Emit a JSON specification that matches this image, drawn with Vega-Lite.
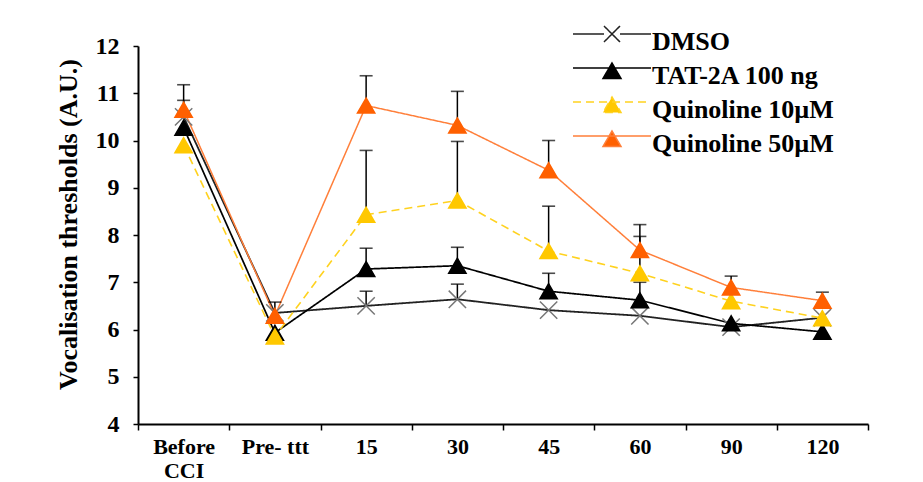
{
  "$schema": "https://vega.github.io/schema/vega-lite/v6.json",
  "autosize": "none",
  "width": 730,
  "height": 378,
  "padding": {"left": 138, "top": 46, "right": 55, "bottom": 58},
  "background": "white",
  "config": {
    "view": {"stroke": null},
    "font": "Liberation Serif",
    "axis": {"labelFont": "Liberation Serif", "titleFont": "Liberation Serif", "labelColor": "black", "titleColor": "black", "domainColor": "black", "tickColor": "black", "grid": false}
  },
  "data": {
    "values": [
      {"t": "Before CCI", "s": "DMSO", "v": 10.5, "u": 10.85},
      {"t": "Pre- ttt", "s": "DMSO", "v": 6.35, "u": null},
      {"t": "15", "s": "DMSO", "v": 6.5, "u": 6.81},
      {"t": "30", "s": "DMSO", "v": 6.64, "u": 6.96},
      {"t": "45", "s": "DMSO", "v": 6.41, "u": null},
      {"t": "60", "s": "DMSO", "v": 6.29, "u": null},
      {"t": "90", "s": "DMSO", "v": 6.05, "u": null},
      {"t": "120", "s": "DMSO", "v": 6.25, "u": null},
      {"t": "Before CCI", "s": "TAT-2A 100 ng", "v": 10.27, "u": null},
      {"t": "Pre- ttt", "s": "TAT-2A 100 ng", "v": 5.93, "u": null},
      {"t": "15", "s": "TAT-2A 100 ng", "v": 7.28, "u": 7.72},
      {"t": "30", "s": "TAT-2A 100 ng", "v": 7.35, "u": 7.74},
      {"t": "45", "s": "TAT-2A 100 ng", "v": 6.81, "u": 7.19},
      {"t": "60", "s": "TAT-2A 100 ng", "v": 6.62, "u": 7.0},
      {"t": "90", "s": "TAT-2A 100 ng", "v": 6.13, "u": null},
      {"t": "120", "s": "TAT-2A 100 ng", "v": 5.95, "u": null},
      {"t": "Before CCI", "s": "Quinoline 10µM", "v": 9.9, "u": null},
      {"t": "Pre- ttt", "s": "Quinoline 10µM", "v": 5.85, "u": null},
      {"t": "15", "s": "Quinoline 10µM", "v": 8.43, "u": 9.79},
      {"t": "30", "s": "Quinoline 10µM", "v": 8.73, "u": 9.98},
      {"t": "45", "s": "Quinoline 10µM", "v": 7.66, "u": 8.61},
      {"t": "60", "s": "Quinoline 10µM", "v": 7.19, "u": 7.97},
      {"t": "90", "s": "Quinoline 10µM", "v": 6.6, "u": null},
      {"t": "120", "s": "Quinoline 10µM", "v": 6.24, "u": null},
      {"t": "Before CCI", "s": "Quinoline 50µM", "v": 10.65, "u": 11.18},
      {"t": "Pre- ttt", "s": "Quinoline 50µM", "v": 6.29, "u": 6.58},
      {"t": "15", "s": "Quinoline 50µM", "v": 10.74, "u": 11.37},
      {"t": "30", "s": "Quinoline 50µM", "v": 10.32, "u": 11.04},
      {"t": "45", "s": "Quinoline 50µM", "v": 9.37, "u": 10.0},
      {"t": "60", "s": "Quinoline 50µM", "v": 7.68, "u": 8.22},
      {"t": "90", "s": "Quinoline 50µM", "v": 6.89, "u": 7.13},
      {"t": "120", "s": "Quinoline 50µM", "v": 6.61, "u": 6.79}
    ]
  },
  "encoding": {
    "x": {
      "field": "t", "type": "nominal",
      "sort": ["Before CCI", "Pre- ttt", "15", "30", "45", "60", "90", "120"],
      "scale": {"paddingInner": 0, "paddingOuter": 0},
      "axis": {
        "title": null, "labelAngle": 0, "labelFontSize": 22, "labelFontWeight": "bold",
        "labelPadding": 6, "labelLineHeight": 24,
        "labelExpr": "datum.label == 'Before CCI' ? ['Before', 'CCI'] : datum.label",
        "tickBand": "extent", "tickSize": 6, "tickWidth": 1.5, "domainWidth": 2
      }
    },
    "y": {
      "field": "v", "type": "quantitative",
      "scale": {"domain": [4, 12], "nice": false, "zero": false},
      "axis": {
        "title": "Vocalisation thresholds (A.U.)", "titleFontSize": 26, "titleFontWeight": "bold",
        "titlePadding": 14, "titleY": 178,
        "values": [4, 5, 6, 7, 8, 9, 10, 11, 12],
        "labelFontSize": 24, "labelFontWeight": "bold", "labelPadding": 14,
        "tickSize": 5, "tickWidth": 1.5, "domainWidth": 2
      }
    }
  },
  "layer": [
    {
      "mark": {"type": "line"},
      "encoding": {
        "color": {
          "field": "s", "type": "nominal",
          "scale": {"domain": ["DMSO", "TAT-2A 100 ng", "Quinoline 10µM", "Quinoline 50µM"], "range": ["#222222", "#000000", "#FFD21F", "#FF7F3A"]},
          "legend": {
            "title": null, "orient": "none", "legendX": 461, "legendY": -17,
            "labelFont": "Liberation Serif", "labelFontSize": 26, "labelFontWeight": "bold", "labelColor": "black",
            "labelLimit": 400,
            "labelOffset": 27, "rowPadding": 5, "symbolSize": 400, "padding": 0,
            "encode": {
              "symbols": {
                "update": {
                  "shape": {"signal": "datum.value === 'DMSO' ? 'M-3.9,-0.8H-0.8M0.8,-0.8H3.9M-0.8,-1.6L0.8,0M-0.8,0L0.8,-1.6' : 'M-3.9,-0.8H3.9M0,-1.3L0.9,0.25L-0.9,0.25Z'"},
                  "fill": {"signal": "datum.value === 'DMSO' ? 'transparent' : datum.value === 'TAT-2A 100 ng' ? '#000000' : datum.value === 'Quinoline 10µM' ? '#FFC800' : '#FF6000'"},
                  "size": {"value": 400},
                  "strokeWidth": {"value": 1.5},
                  "opacity": {"value": 1}
                }
              }
            }
          }
        },
        "strokeDash": {
          "field": "s", "type": "nominal",
          "scale": {"domain": ["DMSO", "TAT-2A 100 ng", "Quinoline 10µM", "Quinoline 50µM"], "range": [[1, 0], [1, 0], [8, 5], [1, 0]]},
          "legend": null
        },
        "strokeWidth": {
          "field": "s", "type": "nominal",
          "scale": {"domain": ["Quinoline 50µM", "Quinoline 10µM", "TAT-2A 100 ng", "DMSO"], "range": [1.5, 1.8, 1.8, 1.4]},
          "legend": null
        }
      }
    },
    {
      "transform": [{"filter": "datum.u != null"}],
      "mark": {"type": "rule", "color": "black", "strokeWidth": 1.5},
      "encoding": {"y2": {"field": "u"}}
    },
    {
      "transform": [{"filter": "datum.u != null"}],
      "mark": {"type": "tick", "color": "black", "size": 13, "thickness": 1.6, "orient": "horizontal"},
      "encoding": {"y": {"field": "u", "type": "quantitative"}}
    },
    {
      "mark": {"type": "point", "opacity": 1, "strokeWidth": 1.5},
      "encoding": {
        "shape": {
          "field": "s", "type": "nominal",
          "scale": {"domain": ["Quinoline 50µM", "Quinoline 10µM", "TAT-2A 100 ng", "DMSO"], "range": ["triangle-up", "triangle-up", "triangle-up", "M-1,-1L1,1M-1,1L1,-1"]},
          "legend": null
        },
        "fill": {
          "field": "s", "type": "nominal",
          "scale": {"domain": ["Quinoline 50µM", "Quinoline 10µM", "TAT-2A 100 ng", "DMSO"], "range": ["#FF6000", "#FFC800", "#000000", "transparent"]},
          "legend": null
        },
        "stroke": {
          "field": "s", "type": "nominal",
          "scale": {"domain": ["Quinoline 50µM", "Quinoline 10µM", "TAT-2A 100 ng", "DMSO"], "range": ["#FF6000", "#FFC800", "#000000", "#777777"]},
          "legend": null
        },
        "size": {
          "field": "s", "type": "nominal",
          "scale": {"domain": ["Quinoline 50µM", "Quinoline 10µM", "TAT-2A 100 ng", "DMSO"], "range": [300, 300, 300, 256]},
          "legend": null
        }
      }
    }
  ]
}
